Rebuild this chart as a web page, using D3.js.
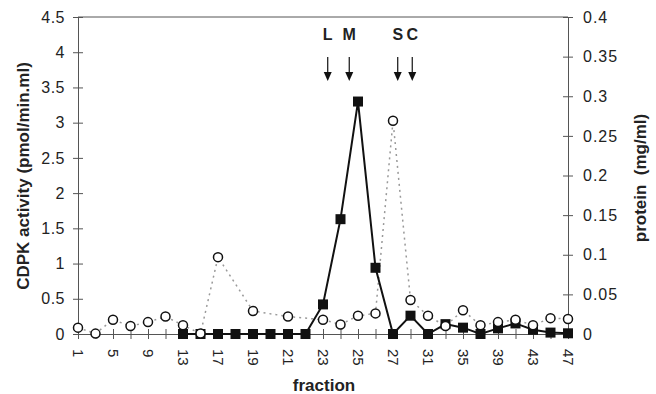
<!DOCTYPE html>
<html>
<head>
<meta charset="utf-8">
<script src="https://cdn.jsdelivr.net/npm/d3@7"></script>
<style>
  body { margin: 0; background: #fff; }
  svg text { font-family: "Liberation Sans", Arial, sans-serif; fill: #222; }
</style>
</head>
<body>
<div id="chart"></div>
<script>
// fraction numbers along the x axis (one category per collected fraction)
var fractions = [1, 3, 5, 7, 9, 11, 13, 15, 17, 18, 19, 20, 21, 22, 23, 24, 25, 26, 27, 29, 31, 33, 35, 37, 39, 41, 43, 45, 47];
// fractions that get a tick label
var labelledFractions = [1, 5, 9, 13, 17, 19, 21, 23, 25, 27, 31, 35, 39, 43, 47];

// CDPK activity (pmol/min.ml), filled squares, left axis
var activityFractions = [13, 15, 17, 18, 19, 20, 21, 22, 23, 24, 25, 26, 27, 29, 31, 33, 35, 37, 39, 41, 43, 45, 47];
var activityValues = [0, 0, 0, 0, 0, 0, 0, 0, 0.42, 1.63, 3.3, 0.94, 0, 0.26, 0, 0.14, 0.09, 0, 0.08, 0.15, 0.06, 0.02, 0.01];

// protein (mg/ml), open circles, right axis
var proteinFractions = [1, 3, 5, 7, 9, 11, 13, 15, 17, 19, 21, 23, 24, 25, 26, 27, 29, 31, 33, 35, 37, 39, 41, 43, 45, 47];
var proteinValues = [0.008, 0.0005, 0.018, 0.010, 0.015, 0.022, 0.011, 0.0005, 0.097, 0.029, 0.022, 0.018, 0.012, 0.023, 0.026, 0.269, 0.043, 0.023, 0.010, 0.030, 0.011, 0.015, 0.018, 0.011, 0.020, 0.019];

var leftTicks = [0, 0.5, 1, 1.5, 2, 2.5, 3, 3.5, 4, 4.5];
var rightTicks = [0, 0.05, 0.1, 0.15, 0.2, 0.25, 0.3, 0.35, 0.4];

// marker arrows, position given as fractional category index
var markerNames = ["L", "M", "S", "C"];
var markerIndex = [14.27, 15.5, 18.27, 19.1];

var W = 656, H = 394;
var plotL = 78, plotR = 568, plotT = 17, plotB = 334;

var svg = d3.select("#chart").append("svg").attr("width", W).attr("height", H);

// x: category index mapped evenly
var x = d3.scaleLinear().domain([0, fractions.length - 1]).range([plotL, plotR]);
function xf(f) { return x(fractions.indexOf(f)); }
var yL = d3.scaleLinear().domain([0, 4.5]).range([plotB, plotT]);
var yR = d3.scaleLinear().domain([0, 0.4]).range([plotB, plotT]);

var axisColor = "#555";

// frame top line
svg.append("line").attr("x1", plotL).attr("x2", plotR).attr("y1", plotT).attr("y2", plotT)
	.attr("stroke", axisColor).attr("stroke-width", 1);

// left axis
var gl = svg.append("g").attr("transform", "translate(" + plotL + ",0)")
	.call(d3.axisLeft(yL).tickValues(leftTicks).tickSize(5).tickPadding(8).tickSizeOuter(0)
		.tickFormat(function(d) { return d; }));
gl.selectAll(".tick line").attr("x1", 5);
// right axis
var gr = svg.append("g").attr("transform", "translate(" + plotR + ",0)")
	.call(d3.axisRight(yR).tickValues(rightTicks).tickSize(5).tickPadding(10).tickSizeOuter(0)
		.tickFormat(function(d) { return d; }));
gr.selectAll(".tick line").attr("x1", -5);
// bottom axis
var gb = svg.append("g").attr("transform", "translate(0," + plotB + ")")
	.call(d3.axisBottom(x).tickValues(d3.range(fractions.length)).tickSize(5).tickSizeOuter(0)
		.tickFormat(function(i) { return labelledFractions.indexOf(fractions[i]) >= 0 ? fractions[i] : ""; }));
gb.selectAll(".tick line").attr("y1", -5);
gb.selectAll(".tick text")
	.attr("transform", "rotate(90)")
	.attr("text-anchor", "start")
	.attr("x", 15).attr("y", 0).attr("dy", "0.35em");

[gl, gr, gb].forEach(function(g) {
	g.select(".domain").attr("stroke", axisColor);
	g.selectAll(".tick line").attr("stroke", axisColor);
	g.selectAll(".tick text").style("font-size", "15px").attr("fill", "#222");
});
gl.selectAll(".tick text").style("font-size", "16px").style("letter-spacing", "0.5px");
gr.selectAll(".tick text").style("font-size", "16px").style("letter-spacing", "1px");

// axis titles
svg.append("text").attr("transform", "translate(29,176) rotate(-90)")
	.attr("text-anchor", "middle").style("font-size", "17px").style("font-weight", "bold")
	.text("CDPK activity (pmol/min.ml)");
svg.append("text").attr("transform", "translate(646,178) rotate(-90)")
	.attr("text-anchor", "middle").style("font-size", "17px").style("font-weight", "bold")
	.style("white-space", "pre").text("protein  (mg/ml)");
svg.append("text").attr("x", 324).attr("y", 391)
	.attr("text-anchor", "middle").style("font-size", "17px").style("font-weight", "bold")
	.text("fraction");

var protein = proteinFractions.map(function(f, i) { return { f: f, v: proteinValues[i] }; });
var activity = activityFractions.map(function(f, i) { return { f: f, v: activityValues[i] }; });

// protein: dotted grey line
svg.append("path").datum(protein)
	.attr("fill", "none").attr("stroke", "#999").attr("stroke-width", 1.5)
	.attr("stroke-dasharray", "2,4")
	.attr("d", d3.line().x(function(d) { return xf(d.f); }).y(function(d) { return yR(d.v); }));

// activity: solid black line
svg.append("path").datum(activity)
	.attr("fill", "none").attr("stroke", "#111").attr("stroke-width", 2)
	.attr("d", d3.line().x(function(d) { return xf(d.f); }).y(function(d) { return yL(d.v); }));

svg.selectAll("rect.sq").data(activity).enter().append("rect").attr("class", "sq")
	.attr("x", function(d) { return xf(d.f) - 5; })
	.attr("y", function(d) { return yL(d.v) - 5; })
	.attr("width", 10).attr("height", 10).attr("fill", "#111");

svg.selectAll("circle.pt").data(protein).enter().append("circle").attr("class", "pt")
	.attr("cx", function(d) { return xf(d.f); })
	.attr("cy", function(d) { return yR(d.v); })
	.attr("r", 4.5).attr("fill", "#fff").attr("stroke", "#111").attr("stroke-width", 1.5);

// marker letters and arrows
var markers = svg.selectAll("g.marker").data(markerNames).enter().append("g").attr("class", "marker")
	.attr("transform", function(d, i) { return "translate(" + x(markerIndex[i]) + ",0)"; });
markers.append("text").attr("y", 40).attr("text-anchor", "middle")
	.style("font-size", "16px").style("font-weight", "bold").text(function(d) { return d; });
markers.append("line").attr("y1", 57).attr("y2", 74).attr("stroke", "#111").attr("stroke-width", 1.2);
markers.append("path").attr("d", "M-4,72L4,72L0,81Z").attr("fill", "#111");
</script>
</body>
</html>
